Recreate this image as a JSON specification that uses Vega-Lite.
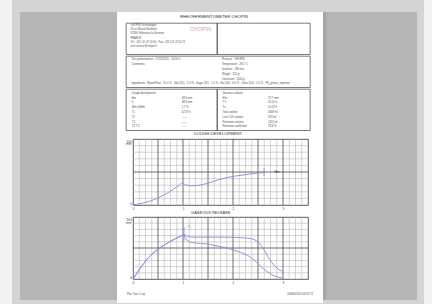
{
"$schema": "https://vega.github.io/schema/vega-lite/v6.json",
"background": "#ffffff",
"padding": 0,
"config": {"view": {"stroke": null}, "font": "Liberation Sans"},
"spacing": 0,
"bounds": "full",
"hconcat": [
 {"width": 12, "height": 304, "data": {"values": []}, "mark": "point", "view": {"fill": "#f3f3f3"}},
 {"width": 8, "height": 304, "data": {"values": []}, "mark": "point", "view": {"fill": "#d4d4d4"}},
 {"spacing": 0, "bounds": "full", "vconcat": [
   {"width": 97, "height": 12, "data": {"values": []}, "mark": "point", "view": {"fill": "#d4d4d4"}},
   {"width": 97, "height": 288, "data": {"values": []}, "mark": "point", "view": {"fill": "#b5b5b5"}},
   {"width": 97, "height": 4, "data": {"values": []}, "mark": "point", "view": {"fill": "#d4d4d4"}}
 ]},
 {"spacing": 0, "bounds": "full", "vconcat": [
   {"width": 206, "height": 12, "data": {"values": []}, "mark": "point", "view": {"fill": "#d4d4d4"}},
   {"width": 206, "height": 10,
    "data": {"values": [{"col": "a", "text": "RHEOFERMENTOMETER CHOPIN"}]},
    "mark": {"type": "text", "fontSize": 4.2, "color": "#333333", "baseline": "middle", "align": "center"},
    "encoding": {"x": {"field": "col", "type": "nominal", "scale": {"type": "point", "padding": 0.5, "align": 0.471}, "axis": null}, "text": {"field": "text"}}},
   {"spacing": 0, "bounds": "flush", "hconcat": [
     {"width": 9, "height": 31.3, "data": {"values": []}, "mark": "point"},
     {"width": 91, "height": 31.3, "view": {"stroke": "#444444", "strokeWidth": 0.7},
      "layer": [
       {"data": {"values": [
          {"col": "a", "line": 1, "text": "CHOPIN Technologies"},
          {"col": "a", "line": 2, "text": "20 av. Marcel Bartholin"},
          {"col": "a", "line": 3, "text": "92390 Villeneuve-la-Garenne"},
          {"col": "a", "line": 4, "text": "FRANCE"},
          {"col": "a", "line": 5, "text": "Tel: +33 1 41 47 50 50 - Fax: +33 1 41 47 50 72"},
          {"col": "a", "line": 6, "text": "tech-service@chopin.fr"}]},
        "mark": {"type": "text", "fontSize": 2.6, "color": "#4d4d4d", "align": "left", "baseline": "middle"},
        "encoding": {
          "x": {"field": "col", "type": "nominal", "scale": {"type": "point", "domain": ["a", "b"], "padding": 0.15, "align": 0.214}, "axis": null},
          "y": {"field": "line", "type": "quantitative", "scale": {"domain": [0.5, 7.75], "reverse": true, "nice": false, "zero": false}, "axis": null},
          "text": {"field": "text"}}},
       {"data": {"values": [{"col": "b", "line": 2, "text": "CHOPIN"}]},
        "mark": {"type": "text", "fontSize": 5.5, "color": "#d9a3aa", "align": "center", "baseline": "middle"},
        "encoding": {
          "x": {"field": "col", "type": "nominal", "scale": {"type": "point", "domain": ["a", "b"], "padding": 0.15, "align": 0.214}, "axis": null},
          "y": {"field": "line", "type": "quantitative", "scale": {"domain": [0.5, 7.75], "reverse": true, "nice": false, "zero": false}, "axis": null},
          "text": {"field": "text"}}}
      ]},
     {"width": 93, "height": 31.3, "view": {"stroke": "#444444", "strokeWidth": 0.7}, "data": {"values": []}, "mark": "point"},
     {"width": 13, "height": 31.3, "data": {"values": []}, "mark": "point"}
   ]},
   {"spacing": 0, "bounds": "flush", "hconcat": [
     {"width": 9, "height": 31.3, "data": {"values": []}, "mark": "point"},
     {"width": 184, "height": 31.3, "view": {"stroke": "#444444", "strokeWidth": 0.7},
      "data": {"values": [
        {"col": "a", "line": 1, "text": "Test performed on : 27/02/2015 - 10:40 h"},
        {"col": "a", "line": 2, "text": "Comments :"},
        {"col": "b", "line": 1, "text": "Protocol : CHOPIN"},
        {"col": "b", "line": 2, "text": "\u00a0\u00a0\u00a0\u00a0\u00a0\u00a0Temperature : 28.5 \u00b0C"},
        {"col": "b", "line": 3, "text": "\u00a0\u00a0\u00a0\u00a0\u00a0\u00a0Duration : 180 min"},
        {"col": "b", "line": 4, "text": "\u00a0\u00a0\u00a0\u00a0\u00a0\u00a0Weight : 315 g"},
        {"col": "b", "line": 5, "text": "\u00a0\u00a0\u00a0\u00a0\u00a0\u00a0Constraint : 2000 g"},
        {"col": "a", "line": 6, "text": "Ingredients : Water/Flour : 51.0 % - Salt (S1) : 2.0 % - Sugar (S1) : 1.5 % - Fat (S1) : 0.0 % - Yeast (S1) : 2.0 % - PS_gluten_improver"}]},
      "mark": {"type": "text", "fontSize": 2.7, "color": "#4d4d4d", "align": "left", "baseline": "middle"},
      "encoding": {
        "x": {"field": "col", "type": "nominal", "scale": {"type": "point", "domain": ["a", "b"], "padding": 0.5166, "align": 0.0588}, "axis": null},
        "y": {"field": "line", "type": "quantitative", "scale": {"domain": [0.25, 6.7], "reverse": true, "nice": false, "zero": false}, "axis": null},
        "text": {"field": "text"}}},
     {"width": 13, "height": 31.3, "data": {"values": []}, "mark": "point"}
   ]},
   {"spacing": 0, "bounds": "flush", "hconcat": [
     {"width": 9, "height": 41.3, "data": {"values": []}, "mark": "point"},
     {"width": 91, "height": 41.3, "view": {"stroke": "#444444", "strokeWidth": 0.7},
      "data": {"values": [
        {"col": "a", "line": 0, "text": "Dough development"},
        {"col": "a", "line": 1, "text": "Hm"}, {"col": "b", "line": 1, "text": "49.6 mm"},
        {"col": "a", "line": 2, "text": "h"}, {"col": "b", "line": 2, "text": "48.3 mm"},
        {"col": "a", "line": 3, "text": "(Hm-h)/Hm"}, {"col": "b", "line": 3, "text": "2.7 %"},
        {"col": "a", "line": 4, "text": "T1"}, {"col": "b", "line": 4, "text": "02:37 h"},
        {"col": "a", "line": 5, "text": "T2"}, {"col": "b", "line": 5, "text": "------"},
        {"col": "a", "line": 6, "text": "T'2"}, {"col": "b", "line": 6, "text": "------"},
        {"col": "a", "line": 7, "text": "T2-T'2"}, {"col": "b", "line": 7, "text": "------"}]},
      "mark": {"type": "text", "fontSize": 2.7, "color": "#4d4d4d", "align": "left", "baseline": "middle"},
      "encoding": {
        "x": {"field": "col", "type": "nominal", "scale": {"type": "point", "domain": ["a", "b"], "padding": 0.41, "align": 0.139}, "axis": null},
        "y": {"field": "line", "type": "quantitative", "scale": {"domain": [-0.86, 7.7], "reverse": true, "nice": false, "zero": false}, "axis": null},
        "text": {"field": "text"}}},
     {"width": 93, "height": 41.3, "view": {"stroke": "#444444", "strokeWidth": 0.7},
      "data": {"values": [
        {"col": "a", "line": 0, "text": "Gaseous release"},
        {"col": "a", "line": 1, "text": "H'm"}, {"col": "b", "line": 1, "text": "72.7 mm"},
        {"col": "a", "line": 2, "text": "T'1"}, {"col": "b", "line": 2, "text": "01:01 h"},
        {"col": "a", "line": 3, "text": "Tx"}, {"col": "b", "line": 3, "text": "01:02 h"},
        {"col": "a", "line": 4, "text": "Total volume"}, {"col": "b", "line": 4, "text": "1668 ml"},
        {"col": "a", "line": 5, "text": "Lost CO2 volume"}, {"col": "b", "line": 5, "text": "353 ml"},
        {"col": "a", "line": 6, "text": "Retention volume"}, {"col": "b", "line": 6, "text": "1315 ml"},
        {"col": "a", "line": 7, "text": "Retention coefficient"}, {"col": "b", "line": 7, "text": "78.8 %"}]},
      "mark": {"type": "text", "fontSize": 2.7, "color": "#4d4d4d", "align": "left", "baseline": "middle"},
      "encoding": {
        "x": {"field": "col", "type": "nominal", "scale": {"type": "point", "domain": ["a", "b"], "padding": 0.522, "align": 0.116}, "axis": null},
        "y": {"field": "line", "type": "quantitative", "scale": {"domain": [-0.86, 7.7], "reverse": true, "nice": false, "zero": false}, "axis": null},
        "text": {"field": "text"}}},
     {"width": 13, "height": 41.3, "data": {"values": []}, "mark": "point"}
   ]},
   {"width": 206, "height": 6.2,
    "data": {"values": [{"col": "a", "text": "DOUGH DEVELOPMENT"}]},
    "mark": {"type": "text", "fontSize": 4.2, "color": "#333333", "baseline": "middle", "align": "center"},
    "encoding": {"x": {"field": "col", "type": "nominal", "scale": {"type": "point", "padding": 0.5, "align": 0.49}, "axis": null}, "text": {"field": "text"}}},
   {"spacing": 0, "bounds": "flush", "hconcat": [
     {"width": 16, "height": 66,
      "data": {"values": [{"c": "a", "r": "a", "text": "mm"}]},
      "mark": {"type": "text", "fontSize": 3.3, "color": "#444444", "align": "right", "baseline": "middle"},
      "encoding": {
        "x": {"field": "c", "type": "nominal", "scale": {"type": "point", "padding": 0.5, "align": 0.906}, "axis": null},
        "y": {"field": "r", "type": "nominal", "scale": {"type": "point", "padding": 0.5, "align": 0.083}, "axis": null},
        "text": {"field": "text"}}},
     {"width": 175, "height": 66,
      "view": {"stroke": "#333333", "strokeWidth": 0.8},
      "layer": [
       {"data": {"values": [{"t": 0.125}, {"t": 0.25}, {"t": 0.375}, {"t": 0.625}, {"t": 0.75}, {"t": 0.875}, {"t": 1.125}, {"t": 1.25}, {"t": 1.375}, {"t": 1.625}, {"t": 1.75}, {"t": 1.875}, {"t": 2.125}, {"t": 2.25}, {"t": 2.375}, {"t": 2.625}, {"t": 2.75}, {"t": 2.875}, {"t": 3.125}, {"t": 3.25}, {"t": 3.375}]},
        "mark": {"type": "rule", "color": "#a8a8a8", "strokeWidth": 0.5},
        "encoding": {"x": {"field": "t", "type": "quantitative", "scale": {"domain": [0, 3.5], "nice": false, "zero": false},
          "axis": {"values": [0, 1, 2, 3], "format": "d", "grid": false, "ticks": false, "tickSize": 0, "domain": false,
                   "labelFontSize": 3.3, "labelColor": "#444444", "labelPadding": 1.5, "labelOverlap": false, "labelFlush": false, "labelBound": false, "title": null}}}},
       {"data": {"values": [{"v": 10}, {"v": 20}, {"v": 30}, {"v": 40}, {"v": 60}, {"v": 70}, {"v": 80}, {"v": 90}]},
        "mark": {"type": "rule", "color": "#a8a8a8", "strokeWidth": 0.5},
        "encoding": {"y": {"field": "v", "type": "quantitative", "scale": {"domain": [0, 100], "nice": false},
          "axis": {"values": [0, 50, 100], "format": "d", "grid": false, "ticks": false, "tickSize": 0, "domain": false,
                   "labelFontSize": 3.3, "labelColor": "#444444", "labelPadding": 1.5, "labelOverlap": false, "labelFlush": true, "labelBound": false, "title": null}}}},
       {"data": {"values": [{"t": 0.5}, {"t": 1}, {"t": 1.5}, {"t": 2}, {"t": 2.5}, {"t": 3}]},
        "mark": {"type": "rule", "color": "#4a4a4a", "strokeWidth": 0.8},
        "encoding": {"x": {"field": "t", "type": "quantitative"}}},
       {"data": {"values": [{"v": 50}]},
        "mark": {"type": "rule", "color": "#4a4a4a", "strokeWidth": 0.8},
        "encoding": {"y": {"field": "v", "type": "quantitative"}}},
       {"data": {"values": [
          {"t": 0, "v": 0}, {"t": 0.1, "v": 1.5}, {"t": 0.2, "v": 3}, {"t": 0.3, "v": 5}, {"t": 0.4, "v": 7.5},
          {"t": 0.5, "v": 11}, {"t": 0.6, "v": 14.5}, {"t": 0.7, "v": 18.5}, {"t": 0.8, "v": 23.5}, {"t": 0.9, "v": 28.5},
          {"t": 0.97, "v": 33.5}, {"t": 1.0, "v": 33}, {"t": 1.05, "v": 30.5}, {"t": 1.15, "v": 29}, {"t": 1.3, "v": 29.5},
          {"t": 1.5, "v": 33}, {"t": 1.7, "v": 38}, {"t": 1.9, "v": 42}, {"t": 2.1, "v": 44.5}, {"t": 2.3, "v": 46.5},
          {"t": 2.5, "v": 48.5}, {"t": 2.64, "v": 49.5}]},
        "mark": {"type": "line", "color": "#878dd8", "strokeWidth": 0.9},
        "encoding": {"x": {"field": "t", "type": "quantitative"}, "y": {"field": "v", "type": "quantitative"}}},
       {"data": {"values": [{"t": 2.62, "v": 44, "hi": 56}]},
        "mark": {"type": "rule", "color": "#878dd8", "strokeWidth": 0.8},
        "encoding": {"x": {"field": "t", "type": "quantitative"}, "y": {"field": "v", "type": "quantitative"}, "y2": {"field": "hi"}}},
       {"data": {"values": [{"t": 2.88, "v": 50, "label": "Hm"}]},
        "mark": {"type": "text", "fontSize": 3.3, "color": "#333333", "baseline": "middle", "align": "center"},
        "encoding": {"x": {"field": "t", "type": "quantitative"}, "y": {"field": "v", "type": "quantitative"}, "text": {"field": "label"}}}
      ]},
     {"width": 15, "height": 66, "data": {"values": []}, "mark": "point"}
   ]},
   {"width": 206, "height": 4.6,
    "data": {"values": [{"col": "a", "text": "GASEOUS RELEASE"}]},
    "mark": {"type": "text", "fontSize": 4, "color": "#333333", "baseline": "middle", "align": "center"},
    "encoding": {"x": {"field": "col", "type": "nominal", "scale": {"type": "point", "padding": 0.5, "align": 0.455}, "axis": null}, "text": {"field": "text"}}},
   {"spacing": 0, "bounds": "flush", "hconcat": [
     {"width": 16, "height": 62,
      "data": {"values": [{"c": "a", "r": "a", "text": "mm"}]},
      "mark": {"type": "text", "fontSize": 3.3, "color": "#444444", "align": "right", "baseline": "middle"},
      "encoding": {
        "x": {"field": "c", "type": "nominal", "scale": {"type": "point", "padding": 0.5, "align": 0.906}, "axis": null},
        "y": {"field": "r", "type": "nominal", "scale": {"type": "point", "padding": 0.5, "align": 0.089}, "axis": null},
        "text": {"field": "text"}}},
     {"width": 175, "height": 62,
      "view": {"stroke": "#333333", "strokeWidth": 0.8},
      "layer": [
       {"data": {"values": [{"t": 0.125}, {"t": 0.25}, {"t": 0.375}, {"t": 0.625}, {"t": 0.75}, {"t": 0.875}, {"t": 1.125}, {"t": 1.25}, {"t": 1.375}, {"t": 1.625}, {"t": 1.75}, {"t": 1.875}, {"t": 2.125}, {"t": 2.25}, {"t": 2.375}, {"t": 2.625}, {"t": 2.75}, {"t": 2.875}, {"t": 3.125}, {"t": 3.25}, {"t": 3.375}]},
        "mark": {"type": "rule", "color": "#a8a8a8", "strokeWidth": 0.5},
        "encoding": {"x": {"field": "t", "type": "quantitative", "scale": {"domain": [0, 3.5], "nice": false, "zero": false},
          "axis": {"values": [0, 1, 2, 3], "format": "d", "grid": false, "ticks": false, "tickSize": 0, "domain": false,
                   "labelFontSize": 3.3, "labelColor": "#444444", "labelPadding": 1.5, "labelOverlap": false, "labelFlush": false, "labelBound": false, "title": null}}}},
       {"data": {"values": [{"v": 10}, {"v": 20}, {"v": 30}, {"v": 40}, {"v": 60}, {"v": 70}, {"v": 80}, {"v": 90}]},
        "mark": {"type": "rule", "color": "#a8a8a8", "strokeWidth": 0.5},
        "encoding": {"y": {"field": "v", "type": "quantitative", "scale": {"domain": [0, 100], "nice": false},
          "axis": {"values": [0, 50, 100], "format": "d", "grid": false, "ticks": false, "tickSize": 0, "domain": false,
                   "labelFontSize": 3.3, "labelColor": "#444444", "labelPadding": 1.5, "labelOverlap": false, "labelFlush": true, "labelBound": false, "title": null}}}},
       {"data": {"values": [{"t": 0.5}, {"t": 1}, {"t": 1.5}, {"t": 2}, {"t": 2.5}, {"t": 3}]},
        "mark": {"type": "rule", "color": "#4a4a4a", "strokeWidth": 0.8},
        "encoding": {"x": {"field": "t", "type": "quantitative"}}},
       {"data": {"values": [{"v": 50}]},
        "mark": {"type": "rule", "color": "#4a4a4a", "strokeWidth": 0.8},
        "encoding": {"y": {"field": "v", "type": "quantitative"}}},
       {"data": {"values": [
          {"series": "total", "t": 0, "v": 0}, {"series": "total", "t": 0.05, "v": 6}, {"series": "total", "t": 0.1, "v": 12},
          {"series": "total", "t": 0.15, "v": 18}, {"series": "total", "t": 0.2, "v": 23.5}, {"series": "total", "t": 0.27, "v": 31},
          {"series": "total", "t": 0.35, "v": 38}, {"series": "total", "t": 0.45, "v": 45}, {"series": "total", "t": 0.55, "v": 51},
          {"series": "total", "t": 0.65, "v": 56}, {"series": "total", "t": 0.75, "v": 61}, {"series": "total", "t": 0.85, "v": 65},
          {"series": "total", "t": 0.95, "v": 69}, {"series": "total", "t": 1.02, "v": 72}, {"series": "total", "t": 1.06, "v": 70},
          {"series": "total", "t": 1.12, "v": 68}, {"series": "total", "t": 1.25, "v": 67.5}, {"series": "total", "t": 1.5, "v": 67.5},
          {"series": "total", "t": 1.8, "v": 67.5}, {"series": "total", "t": 2.1, "v": 67}, {"series": "total", "t": 2.3, "v": 66},
          {"series": "total", "t": 2.4, "v": 64.5}, {"series": "total", "t": 2.5, "v": 60}, {"series": "total", "t": 2.58, "v": 52},
          {"series": "total", "t": 2.65, "v": 43}, {"series": "total", "t": 2.72, "v": 33}, {"series": "total", "t": 2.8, "v": 24},
          {"series": "total", "t": 2.9, "v": 16}, {"series": "total", "t": 3.0, "v": 12},
          {"series": "retained", "t": 0, "v": 0}, {"series": "retained", "t": 0.05, "v": 6}, {"series": "retained", "t": 0.1, "v": 12},
          {"series": "retained", "t": 0.15, "v": 18}, {"series": "retained", "t": 0.2, "v": 23.5}, {"series": "retained", "t": 0.27, "v": 31},
          {"series": "retained", "t": 0.35, "v": 38}, {"series": "retained", "t": 0.45, "v": 45}, {"series": "retained", "t": 0.55, "v": 51},
          {"series": "retained", "t": 0.65, "v": 56}, {"series": "retained", "t": 0.75, "v": 61}, {"series": "retained", "t": 0.85, "v": 65},
          {"series": "retained", "t": 0.95, "v": 69}, {"series": "retained", "t": 1.02, "v": 72}, {"series": "retained", "t": 1.06, "v": 64},
          {"series": "retained", "t": 1.12, "v": 60}, {"series": "retained", "t": 1.2, "v": 58.5}, {"series": "retained", "t": 1.35, "v": 57.5},
          {"series": "retained", "t": 1.5, "v": 56.5}, {"series": "retained", "t": 1.7, "v": 53}, {"series": "retained", "t": 1.9, "v": 49.5},
          {"series": "retained", "t": 2.0, "v": 47}, {"series": "retained", "t": 2.15, "v": 43}, {"series": "retained", "t": 2.3, "v": 38},
          {"series": "retained", "t": 2.4, "v": 32}, {"series": "retained", "t": 2.5, "v": 25}, {"series": "retained", "t": 2.6, "v": 17},
          {"series": "retained", "t": 2.7, "v": 11}, {"series": "retained", "t": 2.8, "v": 6}, {"series": "retained", "t": 2.9, "v": 3},
          {"series": "retained", "t": 3.0, "v": 1.5}]},
        "mark": {"type": "line", "color": "#878dd8", "strokeWidth": 0.9},
        "encoding": {"detail": {"field": "series"}, "x": {"field": "t", "type": "quantitative"}, "y": {"field": "v", "type": "quantitative"}}},
       {"data": {"values": [{"t": 1.02, "v": 62, "hi": 84}]},
        "mark": {"type": "rule", "color": "#878dd8", "strokeWidth": 0.8},
        "encoding": {"x": {"field": "t", "type": "quantitative"}, "y": {"field": "v", "type": "quantitative"}, "y2": {"field": "hi"}}},
       {"data": {"values": [{"t": 1.12, "v": 84, "label": "T'1"}]},
        "mark": {"type": "text", "fontSize": 3, "color": "#878dd8", "baseline": "middle", "align": "center"},
        "encoding": {"x": {"field": "t", "type": "quantitative"}, "y": {"field": "v", "type": "quantitative"}, "text": {"field": "label"}}}
      ]},
     {"width": 15, "height": 62, "data": {"values": []}, "mark": "point"}
   ]},
   {"width": 206, "height": 17.6,
    "layer": [
     {"data": {"values": [{"col": "a", "text": "File: Test 1.rap"}]},
      "mark": {"type": "text", "fontSize": 2.8, "color": "#4d4d4d", "align": "left", "baseline": "middle"},
      "encoding": {"x": {"field": "col", "type": "nominal", "scale": {"type": "point", "domain": ["a", "b"], "padding": 0.05376, "align": 0.5}, "axis": null}, "text": {"field": "text"}}},
     {"data": {"values": [{"col": "b", "text": "08/06/2015 09:52:21"}]},
      "mark": {"type": "text", "fontSize": 2.8, "color": "#4d4d4d", "align": "right", "baseline": "middle"},
      "encoding": {"x": {"field": "col", "type": "nominal", "scale": {"type": "point", "domain": ["a", "b"], "padding": 0.05376, "align": 0.5}, "axis": null}, "text": {"field": "text"}}}
    ]},
   {"width": 206, "height": 2, "data": {"values": []}, "mark": "point", "view": {"fill": "#d4d4d4"}}
 ]},
 {"spacing": 0, "bounds": "full", "vconcat": [
   {"width": 3, "height": 12, "data": {"values": []}, "mark": "point", "view": {"fill": "#d4d4d4"}},
   {"width": 3, "height": 288, "data": {"values": []}, "mark": "point", "view": {"fill": "#a6a6a6"}},
   {"width": 3, "height": 4, "data": {"values": []}, "mark": "point", "view": {"fill": "#d4d4d4"}}
 ]},
 {"spacing": 0, "bounds": "full", "vconcat": [
   {"width": 91, "height": 12, "data": {"values": []}, "mark": "point", "view": {"fill": "#d4d4d4"}},
   {"width": 91, "height": 288, "data": {"values": []}, "mark": "point", "view": {"fill": "#b5b5b5"}},
   {"width": 91, "height": 4, "data": {"values": []}, "mark": "point", "view": {"fill": "#d4d4d4"}}
 ]},
 {"width": 7, "height": 304, "data": {"values": []}, "mark": "point", "view": {"fill": "#d4d4d4"}},
 {"width": 8, "height": 304, "data": {"values": []}, "mark": "point", "view": {"fill": "#f3f3f3"}}
]
}
